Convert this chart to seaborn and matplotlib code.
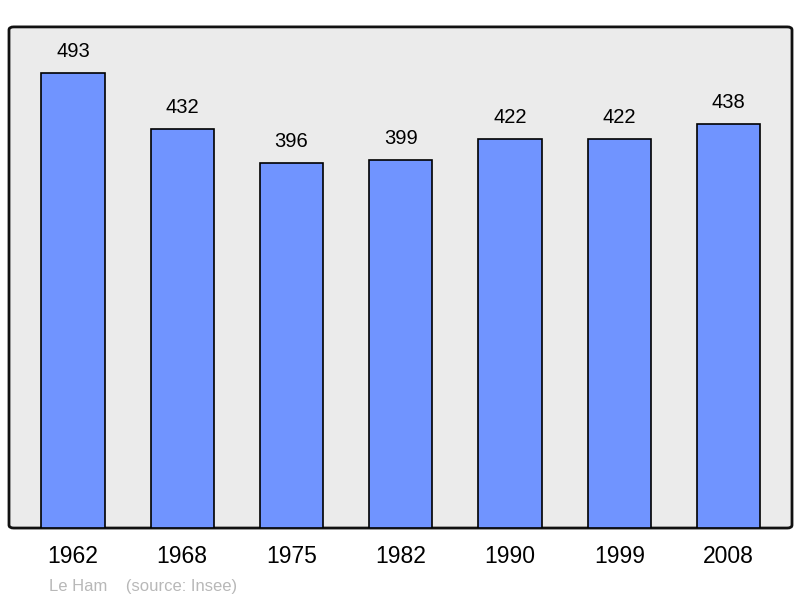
import matplotlib
matplotlib.use("Agg")
import pandas as pd
import matplotlib.pyplot as plt
import seaborn as sns
from matplotlib.patches import FancyBboxPatch

years = ["1962", "1968", "1975", "1982", "1990", "1999", "2008"]
population = [493, 432, 396, 399, 422, 422, 438]

df = pd.DataFrame({"year": years, "pop": population})

sns.set_style("white")
plt.rcParams["font.family"] = ["Liberation Sans", "DejaVu Sans"]

fig = plt.figure(figsize=(8, 5.98), dpi=100)
ax = fig.add_axes([0.01125, 0.117, 0.97875, 0.838])

sns.barplot(data=df, x="year", y="pop", color="#7094ff", saturation=1,
            width=0.58, edgecolor="black", linewidth=1.2, ax=ax)

ax.set_xlim(-0.585, 6.58)
ax.set_ylim(0, 543)
ax.set_facecolor("none")
bg = FancyBboxPatch((0, 0), 1, 1, boxstyle="round,pad=0,rounding_size=0.006",
                    transform=ax.transAxes, facecolor="#ebebeb",
                    edgecolor="#111111", linewidth=2, zorder=0, clip_on=False)
ax.add_patch(bg)
for s in ax.spines.values():
    s.set_visible(False)

for i, v in enumerate(population):
    ax.text(i, v + 13, str(v), ha="center", va="bottom", fontsize=14.5, color="black")

ax.set_yticks([])
ax.tick_params(axis="x", length=0, labelsize=16.5, pad=12.5, labelcolor="black")
ax.set_xlabel("")
ax.set_ylabel("")

fig.text(0.061, 0.012, "Le Ham    (source: Insee)", fontsize=12, color="#b8b8b8")

fig.savefig("out.png", dpi=100)
